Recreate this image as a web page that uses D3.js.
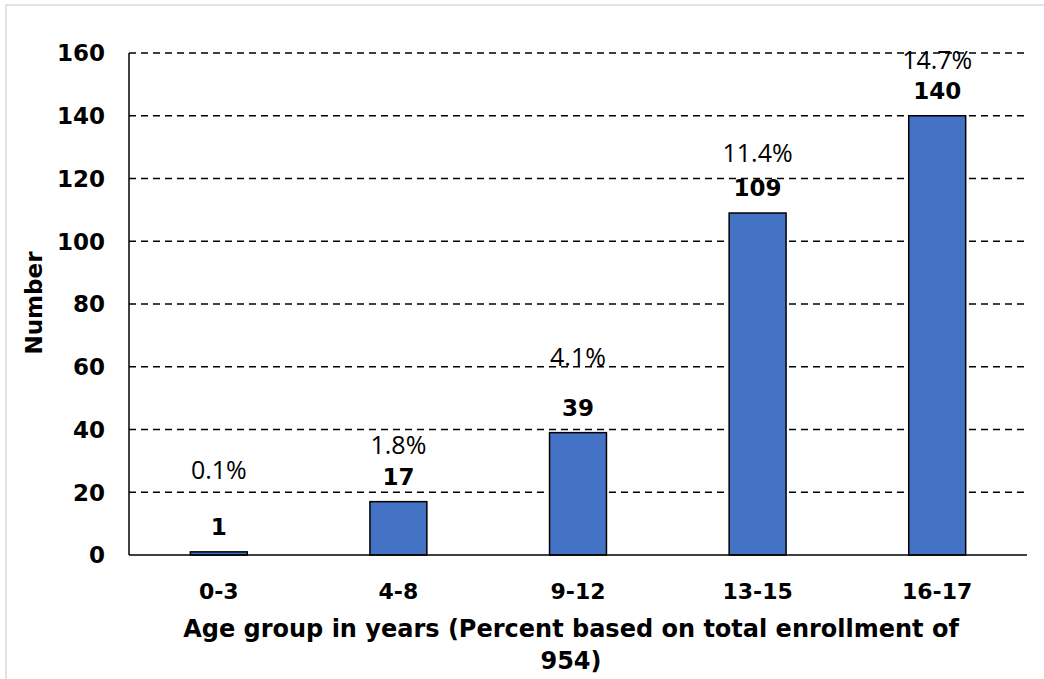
<!DOCTYPE html>
<html>
<head>
<meta charset="utf-8">
<script src="https://cdnjs.cloudflare.com/ajax/libs/d3/7.8.5/d3.min.js"></script>
<style>
  body { margin: 0; background: #fff; }
  svg { display: block; }
  .grid line { stroke: #000; stroke-width: 1.3; stroke-dasharray: 7 5; }
  .bar { fill: #4472c4; stroke: #000; stroke-width: 1.5; }
  .tick-label, .value-label, .cat-label, .axis-title { font-family: 'DejaVu Sans', Verdana, sans-serif; font-weight: bold; fill: #000; }
  .pct-label { font-family: 'Open Sans', 'DejaVu Sans', sans-serif; fill: #000; }
</style>
</head>
<body>
<svg id="chart" width="1044" height="679"></svg>
<script>
const ageGroups = ['0-3', '4-8', '9-12', '13-15', '16-17'];
const counts = [1, 17, 39, 109, 140];
const percents = [0.1, 1.8, 4.1, 11.4, 14.7];
const yTicks = [0, 20, 40, 60, 80, 100, 120, 140, 160];

// percent labels were nudged by hand in the original, lift above the count label (px)
const pctLift = [56, 31, 50, 34, 30];

const svg = d3.select('#chart');
const margin = { left: 129, right: 1027, top: 53, bottom: 555 };

// outer frame, only top and left edges show in the picture
svg.append('rect')
  .attr('x', 6).attr('y', 5)
  .attr('width', 1060).attr('height', 700)
  .attr('fill', 'none')
  .attr('stroke', '#d9d9d9')
  .attr('stroke-width', 1.5);

const x = d3.scaleBand()
  .domain(ageGroups)
  .range([margin.left, margin.right])
  .paddingInner(0.683)
  .paddingOuter(0.3415);

const y = d3.scaleLinear()
  .domain([0, 160])
  .range([margin.bottom, margin.top]);

svg.append('g')
  .classed('grid', true)
  .selectAll('line')
  .data(yTicks.filter(d => d > 0))
  .enter()
  .append('line')
  .attr('x1', margin.left)
  .attr('x2', margin.right)
  .attr('y1', d => y(d))
  .attr('y2', d => y(d));

svg.selectAll('.tick-label')
  .data(yTicks)
  .enter()
  .append('text')
  .classed('tick-label', true)
  .attr('x', 105)
  .attr('y', d => y(d))
  .attr('dy', '0.36em')
  .attr('text-anchor', 'end')
  .attr('font-size', 23)
  .text(d => d);

svg.selectAll('.bar')
  .data(counts)
  .enter()
  .append('rect')
  .classed('bar', true)
  .attr('x', (d, i) => x(ageGroups[i]))
  .attr('width', x.bandwidth())
  .attr('y', d => y(d))
  .attr('height', d => y(0) - y(d));

// axes lines
svg.append('line')
  .attr('x1', margin.left).attr('x2', margin.left)
  .attr('y1', margin.top).attr('y2', margin.bottom)
  .attr('stroke', '#000').attr('stroke-width', 1.5);
svg.append('line')
  .attr('x1', margin.left).attr('x2', margin.right)
  .attr('y1', margin.bottom).attr('y2', margin.bottom)
  .attr('stroke', '#000').attr('stroke-width', 1.5);

const cx = i => x(ageGroups[i]) + x.bandwidth() / 2;

svg.selectAll('.value-label')
  .data(counts)
  .enter()
  .append('text')
  .classed('value-label', true)
  .attr('x', (d, i) => cx(i))
  .attr('y', d => y(d) - 17)
  .attr('text-anchor', 'middle')
  .attr('font-size', 23)
  .text(d => d);

svg.selectAll('.pct-label')
  .data(percents)
  .enter()
  .append('text')
  .classed('pct-label', true)
  .attr('x', (d, i) => cx(i))
  .attr('y', (d, i) => y(counts[i]) - 17 - pctLift[i])
  .attr('text-anchor', 'middle')
  .attr('font-size', 25)
  .text(d => d.toFixed(1) + '%');

svg.selectAll('.cat-label')
  .data(ageGroups)
  .enter()
  .append('text')
  .classed('cat-label', true)
  .attr('x', (d, i) => cx(i))
  .attr('y', 599)
  .attr('text-anchor', 'middle')
  .attr('font-size', 22)
  .text(d => d);

const titleX = (margin.left + margin.right) / 2 - 7;
svg.append('text')
  .classed('axis-title', true)
  .attr('x', titleX)
  .attr('y', 637)
  .attr('text-anchor', 'middle')
  .attr('font-size', 24)
  .text('Age group in years (Percent based on total enrollment of');
svg.append('text')
  .classed('axis-title', true)
  .attr('x', titleX)
  .attr('y', 669)
  .attr('text-anchor', 'middle')
  .attr('font-size', 24)
  .text('954)');

svg.append('text')
  .classed('axis-title', true)
  .attr('transform', 'translate(42,303) rotate(-90)')
  .attr('text-anchor', 'middle')
  .attr('font-size', 23)
  .text('Number');
</script>
</body>
</html>
